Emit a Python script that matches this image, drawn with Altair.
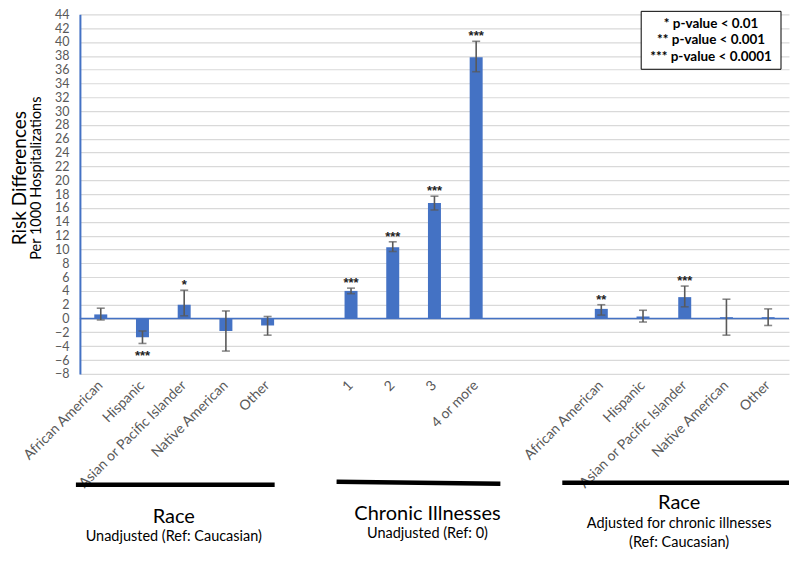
import altair as alt
import pandas as pd

# ---------------- data ----------------
race_names = ["African American", "Hispanic", "Asian or Pacific Islander", "Native American", "Other"]
chronic_names = ["1", "2", "3", "4 or more"]

race_unadj_val = [0.6, -2.7, 2.0, -1.8, -1.0]
race_unadj_lo = [-0.2, -3.6, 0.4, -4.7, -2.4]
race_unadj_hi = [1.5, -1.8, 4.1, 1.1, 0.3]
race_unadj_stars = ["", "***", "*", "", ""]

chronic_val = [4.0, 10.3, 16.7, 37.8]
chronic_lo = [3.6, 9.7, 15.7, 35.7]
chronic_hi = [4.4, 11.1, 17.7, 40.1]
chronic_stars = ["***", "***", "***", "***"]

race_adj_val = [1.4, 0.3, 3.1, 0.2, 0.2]
race_adj_lo = [0.5, -0.5, 1.7, -2.4, -1.0]
race_adj_hi = [2.0, 1.2, 4.7, 2.8, 1.4]
race_adj_stars = ["**", "", "***", "", ""]

y_ticks = list(range(-8, 46, 2))
legend_lines = ["* p-value < 0.01", "** p-value < 0.001", "*** p-value < 0.0001"]

group_titles = ["Race", "Chronic Illnesses", "Race"]
group_subtitles = [["Unadjusted (Ref: Caucasian)"], ["Unadjusted (Ref: 0)"],
                   ["Adjusted for chronic illnesses", "(Ref: Caucasian)"]]

# ---------------- table ----------------
keys_u = [f"{n}|u" for n in race_names]
keys_c = [f"{n}|c" for n in chronic_names]
keys_a = [f"{n}|a" for n in race_names]
domain = keys_u + ["|g1"] + keys_c + ["|g2", "|g3"] + keys_a

rows = []
for k, v, lo, hi, s in zip(keys_u + keys_c + keys_a,
                           race_unadj_val + chronic_val + race_adj_val,
                           race_unadj_lo + chronic_lo + race_adj_lo,
                           race_unadj_hi + chronic_hi + race_adj_hi,
                           race_unadj_stars + chronic_stars + race_adj_stars):
    rows.append({"key": k, "value": v, "lo": lo, "hi": hi, "stars": s,
                 "below": 1 if v < 0 and s else 0})
df = pd.DataFrame(rows)

# ---------------- layout constants ----------------
W, H = 710, 360
BLUE = "#4472C4"
GRAY = "#595959"
FONT = "Lato"

xaxis = alt.Axis(title=None, labelAngle=-45, labelAlign="right", labelBaseline="middle",
                 labelExpr="split(datum.label, '|')[0]", labelColor=GRAY,
                 labelFontSize=14, labelFont=FONT, ticks=False, domain=False,
                 labelPadding=9, grid=False, labelOverlap=False)
xscale = alt.Scale(domain=domain, paddingInner=0, paddingOuter=0)
yscale = alt.Scale(domain=[-8, 44], nice=False, zero=False)
yaxis = alt.Axis(title=None, values=y_ticks, labelColor=GRAY, labelFontSize=12.5, labelFont=FONT,
                 ticks=False, domainColor=BLUE, domainWidth=2, gridColor="#D9D9D9",
                 gridWidth=1.2, labelPadding=11, labelOverlap=False)


def X():
    return alt.X("key:N", scale=xscale, sort=domain, axis=xaxis)


def Y(field):
    return alt.Y(field, scale=yscale, axis=yaxis)


base = alt.Chart(df)

bars = base.mark_bar(size=13, color=BLUE).encode(x=X(), y=Y("value:Q"))

zero = alt.Chart(pd.DataFrame({"z": [0]})).mark_rule(color=BLUE, strokeWidth=1.5).encode(
    y=Y("z:Q"))

err = base.mark_rule(color=GRAY, strokeWidth=1.6).encode(x=X(), y=Y("lo:Q"), y2="hi:Q")
cap_lo = base.mark_tick(color=GRAY, size=8, thickness=1.6).encode(x=X(), y=Y("lo:Q"))
cap_hi = base.mark_tick(color=GRAY, size=8, thickness=1.6).encode(x=X(), y=Y("hi:Q"))

stars_up = base.transform_filter("datum.stars != '' && datum.below == 0").mark_text(
    font="Liberation Sans", fontSize=13, fontWeight="bold", color="#222222",
    baseline="alphabetic", dy=-1).encode(x=X(), y=Y("hi:Q"), text="stars:N")
stars_dn = base.transform_filter("datum.stars != '' && datum.below == 1").mark_text(
    font="Liberation Sans", fontSize=13, fontWeight="bold", color="#222222",
    baseline="alphabetic", dy=17).encode(x=X(), y=Y("lo:Q"), text="stars:N")

one = pd.DataFrame({"a": [0]})


def ptext(txt, x, y, size, weight="normal", angle=0, color="#000000"):
    return alt.Chart(one).mark_text(text=txt, font=FONT, fontSize=size, fontWeight=weight,
                                    angle=angle, color=color, baseline="middle",
                                    align="center").encode(x=alt.value(x), y=alt.value(y))


# y-axis titles
ytitle1 = ptext("Risk Differences", -60, 164, 19, angle=270)
ytitle2 = ptext("Per 1000 Hospitalizations", -43, 164, 14.5, angle=270)

# legend box
box = alt.Chart(one).mark_rect(fill="white", stroke="#000000", strokeWidth=1).encode(
    x=alt.value(562), x2=alt.value(702), y=alt.value(-3), y2=alt.value(55))
legend_layers = [ptext(t, 632, yy, 13.5, weight="bold")
                 for t, yy in zip(legend_lines, [9.5, 26, 42.5])]


# bottom group rules
def brule(x1, x2, y1, y2):
    return alt.Chart(one).mark_rule(color="#000000", strokeWidth=4.5).encode(
        x=alt.value(x1), x2=alt.value(x2), y=alt.value(y1), y2=alt.value(y2))


r1 = brule(-4, 195, 471, 471)
r2 = brule(257, 421, 468, 470)
r3 = brule(483, 710, 469, 469)

g = [
    ptext(group_titles[0], 94, 503, 20), ptext(group_subtitles[0][0], 94, 523, 14.5),
    ptext(group_titles[1], 348, 500, 20), ptext(group_subtitles[1][0], 348, 520, 14.5),
    ptext(group_titles[2], 600, 489, 20), ptext(group_subtitles[2][0], 600, 510, 14.5),
    ptext(group_subtitles[2][1], 600, 529, 14.5),
]

chart = alt.layer(bars, zero, err, cap_lo, cap_hi, stars_up, stars_dn,
                  ytitle1, ytitle2, box, *legend_layers, r1, r2, r3, *g).properties(
    width=W, height=H, padding={"left": 3, "top": 0, "right": 0, "bottom": 0},
    background="white"
).configure_view(stroke=None)

chart.save("out.html", embed_options={"renderer": "svg", "actions": False})
